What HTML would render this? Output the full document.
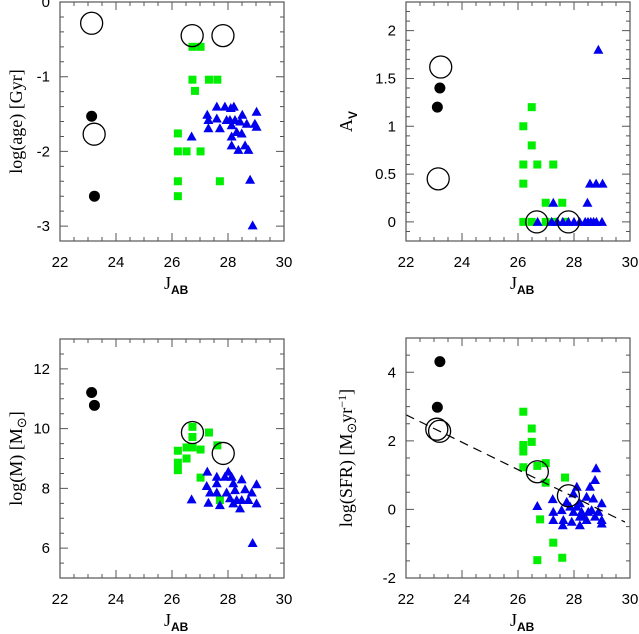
<!DOCTYPE html>
<html><head><meta charset="utf-8"><style>
html,body{margin:0;padding:0;background:#fff}
svg{display:block}
.tk{font-family:"Liberation Sans",sans-serif;font-size:15px;fill:#000}
.tt{font-family:"Liberation Serif",serif;font-size:18px;fill:#000}
</style></head><body>
<svg id="fig" width="639" height="634" viewBox="0 0 639 634" xmlns="http://www.w3.org/2000/svg"></svg>
<script>
// ---- data (J_AB, value) ----
const ageBlack=[[23.13,-1.53],[23.23,-2.6]];
const ageOpen=[[23.13,-0.285],[26.72,-0.45],[27.82,-0.45],[23.22,-1.77]];
const ageGreen=[[26.73,-0.6],[27.02,-0.6],[26.73,-1.04],[27.32,-1.04],[27.62,-1.04],[26.82,-1.19],[26.21,-1.76],[26.21,-2.0],[26.52,-2.0],[27.02,-2.0],[26.21,-2.4],[27.71,-2.4],[26.21,-2.6]];
const ageBlue=[[27.6,-1.4],[27.89,-1.4],[28.1,-1.42],[28.21,-1.4],[29.02,-1.47],[27.26,-1.51],[27.6,-1.56],[28.51,-1.51],[27.3,-1.58],[27.95,-1.58],[28.07,-1.58],[28.25,-1.58],[28.43,-1.6],[28.67,-1.63],[28.96,-1.63],[29.02,-1.67],[27.3,-1.69],[27.71,-1.69],[28.13,-1.65],[28.31,-1.74],[28.49,-1.76],[26.7,-1.8],[28.13,-1.8],[28.13,-1.92],[28.37,-1.98],[28.61,-1.92],[28.73,-1.98],[28.79,-2.38],[28.88,-2.99]];

const avBlack=[[23.21,1.4],[23.12,1.2]];
const avOpen=[[23.24,1.62],[23.15,0.45],[26.67,0],[27.8,0]];
const avGreen=[[26.49,1.2],[26.19,1.0],[26.49,0.8],[26.19,0.6],[26.69,0.6],[27.26,0.6],[26.19,0.4],[26.99,0.2],[27.58,0.2],[26.19,0],[26.49,0],[26.99,0],[27.3,0],[27.7,0]];
const avBlue=[[28.87,1.8],[28.57,0.4],[28.79,0.4],[29.02,0.4],[27.26,0.2],[28.48,0.2],[26.7,0],[27.2,0],[27.4,0],[27.6,0],[27.8,0],[28.0,0],[28.2,0],[28.4,0],[28.5,0],[28.6,0],[28.7,0],[28.8,0],[29.0,0]];

const mBlack=[[23.13,11.21],[23.23,10.78]];
const mOpen=[[26.73,9.87],[27.83,9.17]];
const mGreen=[[26.73,10.06],[27.32,9.87],[26.73,9.72],[27.62,9.44],[26.52,9.37],[26.73,9.37],[27.02,9.3],[26.21,9.26],[26.52,9.0],[26.21,8.86],[26.21,8.61],[27.02,8.36],[27.71,7.61]];
const mBlue=[[27.26,8.56],[28.01,8.56],[27.6,8.39],[27.89,8.39],[28.13,8.39],[28.49,8.3],[27.24,8.08],[27.6,8.17],[28.19,8.17],[29.02,8.14],[27.36,7.86],[27.6,7.86],[27.95,7.86],[28.25,7.94],[28.61,7.97],[28.85,7.86],[26.7,7.63],[27.3,7.52],[27.71,7.44],[28.07,7.67],[28.31,7.61],[28.49,7.61],[28.73,7.61],[29.02,7.5],[28.43,7.33],[28.19,7.5],[28.88,6.17]];

const sBlack=[[23.21,4.31],[23.12,2.98]];
const sOpen=[[23.1,2.34],[23.2,2.28],[26.69,1.1],[27.8,0.4]];
const sGreen=[[26.19,2.85],[26.49,2.36],[26.49,1.97],[26.19,1.88],[26.19,1.69],[26.19,1.23],[26.69,1.27],[26.99,1.35],[26.99,0.78],[27.68,0.93],[26.79,-0.29],[27.26,-0.97],[26.69,-1.48],[27.58,-1.41]];
const sBlue=[[26.69,0.1],[27.24,0.3],[27.26,-0.07],[27.56,-0.02],[28.1,0.66],[28.57,0.66],[28.75,0.86],[28.79,1.2],[28.45,0.37],[28.69,0.32],[28.99,0.18],[27.98,0.47],[28.21,0.18],[27.74,0.22],[27.98,-0.07],[28.27,-0.07],[28.51,-0.07],[28.87,-0.07],[27.26,-0.31],[27.62,-0.31],[27.92,-0.36],[28.21,-0.21],[28.45,-0.31],[28.75,-0.21],[28.99,-0.31],[27.6,-0.46],[28.21,-0.46],[28.99,-0.41],[27.86,0.08],[28.1,0.08],[28.33,-0.21],[28.63,-0.02]];
const fitIntercept=2.76, fitSlope=-0.4, fitX=[22,29.82];

const xTicks=[22,24,26,28,30];
const NS="http://www.w3.org/2000/svg";
const svg=document.getElementById('fig');
function el(t,a,p){const e=document.createElementNS(NS,t);for(const k in a)e.setAttribute(k,a[k]);(p||svg).appendChild(e);return e;}

function panel(o){
  const g=el('g',{});
  
  
  const X=v=>o.L+(v-22)/8*(o.R-o.L);
  const Y=v=>o.B-(v-o.ymin)/(o.ymax-o.ymin)*(o.B-o.T);
  let d='';
  for(let v=22;v<=30.001;v+=0.5){const x=X(v);const maj=Math.abs(v-Math.round(v/2)*2)<1e-6;const l=maj?8:4;
    d+=`M${x} ${o.B}v${-l}M${x} ${o.T}v${l}`;}
  const n=Math.round((o.ymax-o.ymin)/o.minor);
  for(let i=0;i<=n;i++){const v=o.ymin+i*o.minor;const y=Y(v);const maj=Math.abs(v/o.major-Math.round(v/o.major))<1e-6;const l=maj?8:4;
    d+=`M${o.L} ${y}h${l}M${o.R} ${y}h${-l}`;}
  const tp=el('path',{d:d,stroke:'#555','stroke-width':1,fill:'none'},g);
  
  
  o.green.forEach(p=>{const r=el('rect',{x:X(p[0])-4,y:Y(p[1])-4,width:8,height:8,fill:'#00ee00'},g);
    
    });
  o.blue.forEach(p=>{const x=X(p[0]),y=Y(p[1]);const t=el('polygon',{points:`${x},${y-5} ${x-5},${y+4} ${x+5},${y+4}`,fill:'#0000ee'},g);
    
    });
  o.black.forEach(p=>{const c=el('circle',{cx:X(p[0]),cy:Y(p[1]),r:5.5,fill:'#000'},g);
    
    });
  o.open.forEach(p=>{const c=el('circle',{cx:X(p[0]),cy:Y(p[1]),r:11,fill:'none',stroke:'#000','stroke-width':1.3},g);
    
    });
  if(o.fit){const ln=el('line',{x1:X(fitX[0]),y1:Y(fitIntercept+fitSlope*(fitX[0]-22)),x2:X(fitX[1]),y2:Y(fitIntercept+fitSlope*(fitX[1]-22)),stroke:'#000','stroke-width':1.2,'stroke-dasharray':'9 6'},g);
    
    }
  const fr=el('rect',{x:o.L,y:o.T,width:o.R-o.L,height:o.B-o.T,fill:'none',stroke:'#555','stroke-width':1.2},g);
  
  
  xTicks.forEach(v=>{const t=el('text',{x:X(v),y:o.B+26,'text-anchor':'middle',class:'tk'},g);t.textContent=v;
    
    });
  o.yLabels.forEach(v=>{const t=el('text',{x:o.L-10,y:Y(v)+5,'text-anchor':'end',class:'tk'},g);t.textContent=v;
    
    });
  const xt=el('text',{x:(o.L+o.R)/2-8,y:o.B+48,class:'tt'},g);
  xt.innerHTML='J<tspan dy="5" font-size="12" font-weight="bold" font-family="Liberation Sans, sans-serif">AB</tspan>';
  
  
  const yt=el('text',{transform:`translate(${o.ytx},${(o.T+o.B)/2}) rotate(-90)`,'text-anchor':'middle',class:'tt'},g);
  yt.innerHTML=o.ytitle;
  
  
}
panel({name:'age-panel',L:60,R:284,T:2,B:241,ymin:-3.2,ymax:0,major:1,minor:0.2,yLabels:[0,-1,-2,-3],
  black:ageBlack,open:ageOpen,green:ageGreen,blue:ageBlue,ytx:22,ytitle:'log(age)  [Gyr]'});
panel({name:'av-panel',L:406,R:630,T:2,B:241,ymin:-0.2,ymax:2.3,major:0.5,minor:0.1,yLabels:[0,0.5,1,1.5,2],
  black:avBlack,open:avOpen,green:avGreen,blue:avBlue,ytx:352,ytitle:'A<tspan dy="5" font-size="12" font-family="Liberation Sans, sans-serif" font-weight="bold">V</tspan>'});
panel({name:'mass-panel',L:60,R:284,T:339,B:578,ymin:5,ymax:13,major:2,minor:0.5,yLabels:[6,8,10,12],
  black:mBlack,open:mOpen,green:mGreen,blue:mBlue,ytx:22,ytitle:'log(M)  [M<tspan dy="4" font-size="13">⊙</tspan><tspan dy="-4">]</tspan>'});
panel({name:'sfr-panel',L:406,R:630,T:338,B:578,ymin:-2,ymax:5,major:2,minor:0.5,yLabels:[-2,0,2,4],fit:true,
  black:sBlack,open:sOpen,green:sGreen,blue:sBlue,ytx:352,ytitle:'log(SFR)  [M<tspan dy="4" font-size="13">⊙</tspan><tspan dy="-4">yr</tspan><tspan dy="-6" font-size="12">−1</tspan><tspan dy="6">]</tspan>'});
</script>
</body></html>
